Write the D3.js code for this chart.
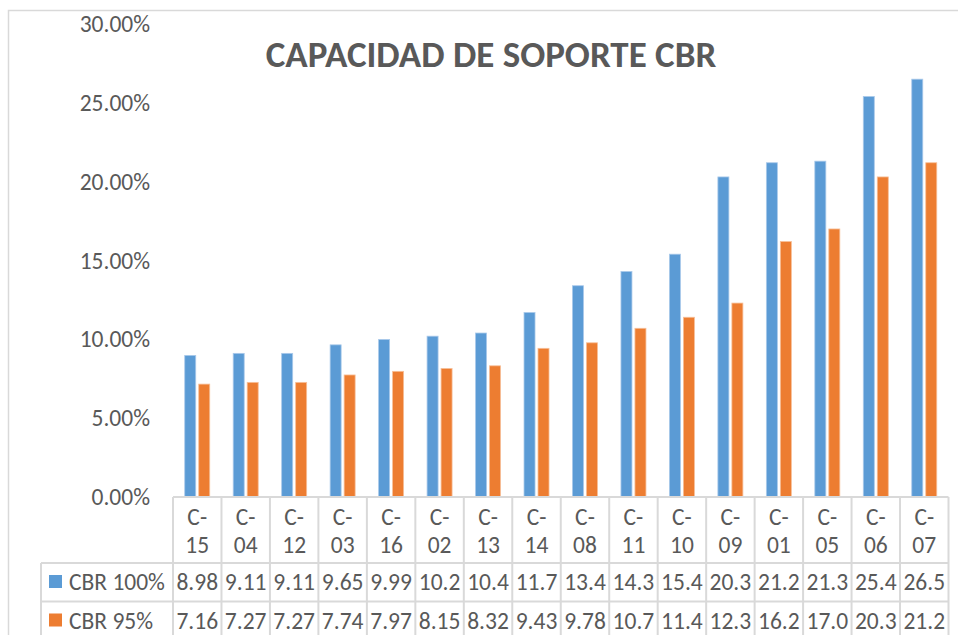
<!DOCTYPE html>
<html>
<head>
<meta charset="utf-8">
<script src="https://cdn.jsdelivr.net/npm/d3@7"></script>
<style>
  html, body { margin: 0; padding: 0; background: #fff; }
  text { font-family: Carlito, Lato, "Open Sans", sans-serif; fill: #595959; }
</style>
</head>
<body>
<div id="chart"></div>
<script>
const categories = ['C-15', 'C-04', 'C-12', 'C-03', 'C-16', 'C-02', 'C-13', 'C-14',
  'C-08', 'C-11', 'C-10', 'C-09', 'C-01', 'C-05', 'C-06', 'C-07'];
const cbr100 = [8.98, 9.11, 9.11, 9.65, 9.99, 10.2, 10.4, 11.7, 13.4, 14.3, 15.4, 20.3, 21.2, 21.3, 25.4, 26.5];
const cbr95 = [7.16, 7.27, 7.27, 7.74, 7.97, 8.15, 8.32, 9.43, 9.78, 10.7, 11.4, 12.3, 16.2, 17.0, 20.3, 21.2];
const seriesNames = ['CBR 100%', 'CBR 95%'];
const seriesColors = ['#5B9BD5', '#ED7D31'];
const yTicks = [0, 5, 10, 15, 20, 25, 30];
const title = 'CAPACIDAD DE SOPORTE CBR';

const width = 958;
const height = 635;
const plot = { left: 173, right: 948.5, top: 24, bottom: 497 };
const rowH = { header: 66, row: 38.5 };
const legendLeft = 41;
const gridColor = '#d9d9d9';
const fontSize = '23.5px';

const svg = d3.select('#chart')
	.append('svg')
	.attr('width', width)
	.attr('height', height);

// outer chart border
svg.append('rect')
	.attr('x', 8.5)
	.attr('y', 10.5)
	.attr('width', width + 10)
	.attr('height', height + 10)
	.attr('fill', 'none')
	.attr('stroke', gridColor)
	.attr('stroke-width', 1.5);

const series = [cbr100, cbr95];

const xScale = d3.scaleBand()
	.domain(categories)
	.range([plot.left, plot.right]);

const xSub = d3.scaleBand()
	.domain(seriesNames)
	.range([-12.5, 12.5])
	.paddingInner(0.214);

const yScale = d3.scaleLinear()
	.domain([0, 30])
	.range([plot.bottom, plot.top]);

// title
svg.append('text')
	.attr('x', 491)
	.attr('y', 67)
	.attr('text-anchor', 'middle')
	.style('font-size', '37px')
	.style('font-weight', 'bold')
	.text(title);

// y axis labels (no line, no ticks)
const yAxis = d3.axisLeft(yScale)
	.tickValues(yTicks)
	.tickSize(0)
	.tickPadding(0)
	.tickFormat(d => d.toFixed(2) + '%');

const gy = svg.append('g')
	.attr('transform', 'translate(150,0)')
	.call(yAxis);
gy.select('.domain').remove();
gy.selectAll('text')
	.style('font-size', fontSize)
	.style('font-family', 'Carlito, Lato, "Open Sans", sans-serif')
	.attr('fill', '#595959');

// bars
series.forEach((vals, si) => {
	svg.append('g')
		.selectAll('rect')
		.data(vals)
		.join('rect')
		.attr('x', (d, i) => xScale(categories[i]) + xScale.bandwidth() / 2 + xSub(seriesNames[si]))
		.attr('y', d => yScale(d))
		.attr('width', xSub.bandwidth())
		.attr('height', d => plot.bottom - yScale(d))
		.attr('fill', seriesColors[si])
		.attr('stroke', si === 0 ? '#a9c9ea' : '#f7bf98')
		.attr('stroke-width', 0.8);
});

// data table
const tableBottom = plot.bottom + rowH.header + rowH.row * 2;
const lines = svg.append('g')
	.attr('stroke', gridColor)
	.attr('stroke-width', 2);

lines.append('line')
	.attr('x1', plot.left).attr('x2', plot.right)
	.attr('y1', plot.bottom).attr('y2', plot.bottom);
[1, 2].forEach(r => {
	const y = plot.bottom + rowH.header + rowH.row * (r - 1);
	lines.append('line')
		.attr('x1', legendLeft).attr('x2', plot.right)
		.attr('y1', y).attr('y2', y);
});
lines.append('line')
	.attr('x1', legendLeft).attr('x2', legendLeft)
	.attr('y1', plot.bottom + rowH.header).attr('y2', tableBottom + 20);
categories.concat(['end']).forEach((c, i) => {
	const x = plot.left + i * xScale.step();
	lines.append('line')
		.attr('x1', x).attr('x2', x)
		.attr('y1', plot.bottom).attr('y2', tableBottom + 20);
});

// category header (two lines)
const header = svg.append('g')
	.selectAll('text')
	.data(categories)
	.join('text')
	.attr('text-anchor', 'middle')
	.style('font-size', fontSize);
header.each(function(d) {
	const cx = xScale(d) + xScale.bandwidth() / 2;
	const parts = d.split('-');
	d3.select(this).append('tspan').attr('x', cx).attr('y', 525).text(parts[0] + '-');
	d3.select(this).append('tspan').attr('x', cx).attr('y', 553).text(parts[1]);
});

// value rows
series.forEach((vals, si) => {
	const baseY = plot.bottom + rowH.header + rowH.row * si + 27;
	svg.append('g')
		.selectAll('text')
		.data(vals)
		.join('text')
		.attr('x', (d, i) => xScale(categories[i]) + xScale.bandwidth() / 2)
		.attr('y', baseY)
		.attr('text-anchor', 'middle')
		.style('font-size', fontSize)
		.text(d => d.toFixed(1 + (d < 10 ? 1 : 0)));

	svg.append('rect')
		.attr('x', 49)
		.attr('y', baseY - 15)
		.attr('width', 13)
		.attr('height', 13)
		.attr('fill', seriesColors[si]);

	svg.append('text')
		.attr('x', 69)
		.attr('y', baseY)
		.style('font-size', fontSize)
		.text(seriesNames[si]);
});
</script>
</body>
</html>
